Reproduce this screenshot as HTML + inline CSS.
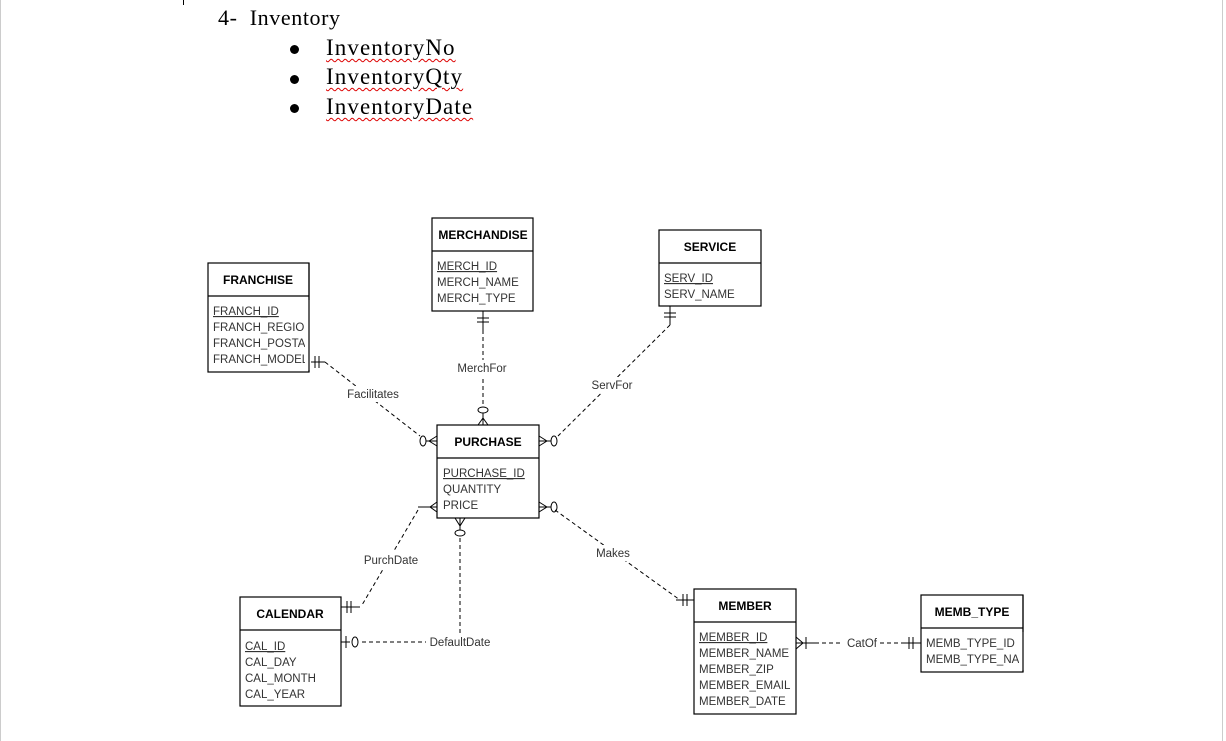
<!DOCTYPE html>
<html><head><meta charset="utf-8"><style>
body{margin:0;background:#fff;width:1226px;height:741px;overflow:hidden;position:relative;font-family:"Liberation Sans",Arial,sans-serif}
.doc{position:absolute;font-family:"Liberation Serif",serif;font-size:23px;color:#000;white-space:nowrap;letter-spacing:1.1px}
.sq{text-decoration:underline wavy #d00;text-decoration-thickness:1px;text-underline-offset:3px}
.b{position:absolute;width:9px;height:9px;border-radius:50%;background:#000}
</style></head><body>
<div style="position:absolute;left:183px;top:0;width:1px;height:5px;background:#000"></div>
<div style="position:absolute;left:1222px;top:0;width:1px;height:741px;background:#ccc"></div>
<div style="position:absolute;left:0;top:0;width:1px;height:741px;background:#ccc"></div>
<div class="doc" style="left:218px;top:5px;font-size:22px;letter-spacing:0.6px">4-&nbsp;&nbsp;Inventory</div>
<div class="b" style="left:290px;top:45px"></div><div class="doc" style="left:326px;top:35px"><span class="sq">InventoryNo</span></div>
<div class="b" style="left:290px;top:75px"></div><div class="doc" style="left:326px;top:64px"><span class="sq">InventoryQty</span></div>
<div class="b" style="left:290px;top:104px"></div><div class="doc" style="left:326px;top:94px"><span class="sq">InventoryDate</span></div>
<svg width="1226" height="741" style="position:absolute;left:0;top:0" font-family="Liberation Sans,Arial,sans-serif" font-size="11.5" fill="none" stroke="#000">
<g stroke-width="1.2">
<rect x="208" y="263" width="101" height="109"/><line x1="208" y1="296" x2="309" y2="296"/>
<rect x="432" y="218" width="101" height="93"/><line x1="432" y1="251" x2="533" y2="251"/>
<rect x="659" y="230" width="102" height="76"/><line x1="659" y1="263" x2="761" y2="263"/>
<rect x="437" y="425" width="102" height="93"/><line x1="437" y1="458" x2="539" y2="458"/>
<rect x="240" y="597" width="101" height="109"/><line x1="240" y1="630" x2="341" y2="630"/>
<rect x="694" y="589" width="102" height="125"/><line x1="694" y1="622" x2="796" y2="622"/>
<rect x="921" y="595" width="102" height="77"/><line x1="921" y1="628" x2="1023" y2="628"/>
</g>
<g stroke-dasharray="4,3" stroke-width="1">
<line x1="325" y1="362" x2="420" y2="436"/>
<line x1="483" y1="330" x2="483" y2="405"/>
<line x1="670" y1="325" x2="558" y2="436"/>
<line x1="418" y1="510" x2="362" y2="605"/>
<line x1="460" y1="538" x2="460" y2="642"/>
<line x1="362" y1="642" x2="460" y2="642"/>
<line x1="555" y1="510" x2="680" y2="600"/>
<line x1="815" y1="643" x2="843" y2="643"/><line x1="880" y1="643" x2="904" y2="643"/>
</g>
<g stroke-width="1">
<line x1="309" y1="362" x2="325" y2="362"/><line x1="315" y1="356" x2="315" y2="368"/><line x1="319" y1="356" x2="319" y2="368"/>
<line x1="483" y1="311" x2="483" y2="330"/><line x1="477" y1="318" x2="489" y2="318"/><line x1="477" y1="322" x2="489" y2="322"/>
<line x1="670" y1="306" x2="670" y2="325"/><line x1="664" y1="313" x2="676" y2="313"/><line x1="664" y1="317" x2="676" y2="317"/>
<ellipse cx="423" cy="441" rx="3" ry="5"/><line x1="426" y1="441" x2="437" y2="441"/><line x1="437" y1="436" x2="429" y2="441"/><line x1="437" y1="446" x2="429" y2="441"/>
<ellipse cx="483" cy="410" rx="5" ry="3"/><line x1="483" y1="413" x2="483" y2="425"/><line x1="478" y1="425" x2="483" y2="418"/><line x1="488" y1="425" x2="483" y2="418"/>
<ellipse cx="554" cy="441" rx="3" ry="5"/><line x1="539" y1="441" x2="551" y2="441"/><line x1="539" y1="436" x2="547" y2="441"/><line x1="539" y1="446" x2="547" y2="441"/>
<ellipse cx="554" cy="507" rx="3" ry="5"/><line x1="539" y1="507" x2="551" y2="507"/><line x1="539" y1="502" x2="547" y2="507"/><line x1="539" y1="512" x2="547" y2="507"/>
<line x1="418" y1="507" x2="437" y2="507"/><line x1="437" y1="502" x2="430" y2="507"/><line x1="437" y1="512" x2="430" y2="507"/>
<ellipse cx="460" cy="533" rx="5" ry="3"/><line x1="460" y1="518" x2="460" y2="530"/><line x1="455" y1="518" x2="460" y2="526"/><line x1="465" y1="518" x2="460" y2="526"/>
<line x1="341" y1="607" x2="360" y2="607"/><line x1="347" y1="601" x2="347" y2="613"/><line x1="351" y1="601" x2="351" y2="613"/>
<line x1="341" y1="642" x2="350" y2="642"/><line x1="346" y1="636" x2="346" y2="648"/><ellipse cx="355" cy="642" rx="3" ry="5"/>
<line x1="676" y1="600" x2="694" y2="600"/><line x1="683" y1="594" x2="683" y2="606"/><line x1="687" y1="594" x2="687" y2="606"/>
<line x1="796" y1="643" x2="815" y2="643"/><line x1="806" y1="637" x2="806" y2="649"/><line x1="796" y1="637" x2="803" y2="643"/><line x1="796" y1="649" x2="803" y2="643"/>
<line x1="904" y1="643" x2="921" y2="643"/><line x1="909" y1="637" x2="909" y2="649"/><line x1="913" y1="637" x2="913" y2="649"/>
</g>
<g fill="#fff" stroke="none">
<rect x="344" y="386" width="58" height="16"/><rect x="454" y="360" width="56" height="16"/><rect x="588" y="377" width="48" height="16"/>
<rect x="361" y="552" width="60" height="16"/><rect x="426" y="634" width="68" height="16"/><rect x="594" y="545" width="38" height="16"/><rect x="843" y="635" width="37" height="16"/>
</g>
<g fill="#000" stroke="none" font-weight="bold" font-size="12" text-anchor="middle">
<text x="258" y="284">FRANCHISE</text><text x="483" y="239">MERCHANDISE</text><text x="710" y="251">SERVICE</text>
<text x="488" y="446">PURCHASE</text><text x="290" y="618">CALENDAR</text><text x="745" y="610">MEMBER</text><text x="972" y="616">MEMB_TYPE</text>
</g>
<g fill="#333" stroke="none" font-size="11.5">
<text x="213" y="315" text-decoration="underline">FRANCH_ID</text><text x="213" y="331">FRANCH_REGIO</text><text x="213" y="347">FRANCH_POSTA</text><text x="213" y="363">FRANCH_MODEL</text>
<text x="437" y="270" text-decoration="underline">MERCH_ID</text><text x="437" y="286">MERCH_NAME</text><text x="437" y="302">MERCH_TYPE</text>
<text x="664" y="282" text-decoration="underline">SERV_ID</text><text x="664" y="298">SERV_NAME</text>
<text x="443" y="477" text-decoration="underline">PURCHASE_ID</text><text x="443" y="493">QUANTITY</text><text x="443" y="509">PRICE</text>
<text x="245" y="650" text-decoration="underline">CAL_ID</text><text x="245" y="666">CAL_DAY</text><text x="245" y="682">CAL_MONTH</text><text x="245" y="698">CAL_YEAR</text>
<text x="699" y="641" text-decoration="underline">MEMBER_ID</text><text x="699" y="657">MEMBER_NAME</text><text x="699" y="673">MEMBER_ZIP</text><text x="699" y="689">MEMBER_EMAIL</text><text x="699" y="705">MEMBER_DATE</text>
<text x="926" y="647">MEMB_TYPE_ID</text><text x="926" y="663">MEMB_TYPE_NA</text>
<g text-anchor="middle"><text x="373" y="398">Facilitates</text><text x="482" y="372">MerchFor</text><text x="612" y="389">ServFor</text>
<text x="391" y="564">PurchDate</text><text x="460" y="646">DefaultDate</text><text x="613" y="557">Makes</text><text x="862" y="647">CatOf</text></g>
</g>
<rect x="305" y="300" width="6" height="70" fill="#fff" stroke="none"/>
<line x1="309" y1="263" x2="309" y2="372" stroke-width="1.2"/>
<rect x="1019" y="632" width="5" height="38" fill="#fff" stroke="none"/>
<line x1="1023" y1="595" x2="1023" y2="672" stroke-width="1.2"/>
</svg>
</body></html>
